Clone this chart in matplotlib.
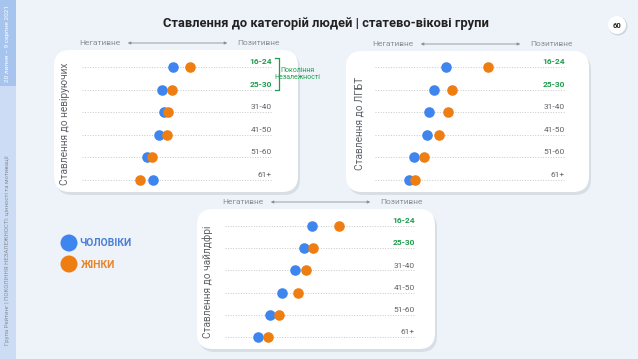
import numpy as np
import matplotlib.pyplot as plt
from matplotlib.patches import FancyBboxPatch, Rectangle, Circle

plt.rcParams['font.family'] = ['Roboto', 'DejaVu Sans']

# data (score on a 0-100 negative -> positive scale)
ages = ['16-24', '25-30', '31-40', '41-50', '51-60', '61+']
nonbelievers_men = [48, 42, 43, 40.5, 34, 37.5]
nonbelievers_women = [57, 47.5, 45.5, 44.5, 37, 30.5]
lgbt_men = [37.5, 31, 28.5, 27.5, 20.5, 18]
lgbt_women = [59.5, 40.5, 38.5, 33.5, 26, 21]
childfree_men = [46, 41.5, 37, 30, 23.5, 17.5]
childfree_women = [60, 46.5, 42.5, 38.5, 28.5, 22.5]

title = 'Ставлення до категорій людей | статево-вікові групи'
panel_titles = ['Ставлення до невіруючих', 'Ставлення до ЛГБТ', 'Ставлення до чайлдфрі']
legend_labels = ['ЧОЛОВІКИ', 'ЖІНКИ']

BLUE = '#3f85ee'
ORANGE = '#ee7d12'
GREEN = '#1f9d4f'
GREY = '#5f6368'
W, H = 638, 359

fig = plt.figure(figsize=(W / 100, H / 100), dpi=100)
fig.patch.set_facecolor('#eef3fa')

# background axes in pixel units for decorations
bg = fig.add_axes([0, 0, 1, 1])
bg.set_xlim(0, W)
bg.set_ylim(H, 0)
bg.axis('off')

# side strip
bg.add_patch(Rectangle((0, 0), 16, H, color='#cbdcf4', lw=0))
bg.add_patch(Rectangle((0, 0), 16, 86, color='#a6c4ee', lw=0))
bg.text(8, 43, '20 липня – 9 серпня 2021', rotation=90, ha='center', va='center',
        fontsize=4.6, color='white')
bg.text(8, 250, 'Група Рейтинг | ПОКОЛІННЯ НЕЗАЛЕЖНОСТІ: цінності та мотивації',
        rotation=90, ha='center', va='center', fontsize=4.3, color='#8a8f96')

bg.text(326, 23, title, ha='center', va='center', fontsize=9.3,
        fontweight='bold', color='#222222')

# page number
bg.add_patch(Circle((618, 26), 9.5, color='#cfd5dd', lw=0))
bg.add_patch(Circle((617, 25), 9, color='white', lw=0))
bg.text(617, 25, '60', ha='center', va='center', fontsize=5.5, fontweight='bold', color='#222')

# panel layout in pixels: box, grid x-range, rows y-range
panels = [
    dict(box=(54, 50, 298, 192), gx=(82, 272), gy=(56, 191), lab_x=65,
         men=nonbelievers_men, women=nonbelievers_women, title=panel_titles[0]),
    dict(box=(346, 51, 589, 192), gx=(375, 565), gy=(56, 191), lab_x=359,
         men=lgbt_men, women=lgbt_women, title=panel_titles[1]),
    dict(box=(197, 209, 435, 349), gx=(225, 415), gy=(215, 348), lab_x=208,
         men=childfree_men, women=childfree_women, title=panel_titles[2]),
]

for p in panels:
    x0, y0, x1, y1 = p['box']
    bg.add_patch(FancyBboxPatch((x0 + 2, y0 + 3), x1 - x0, y1 - y0,
                                boxstyle='round,pad=0,rounding_size=16',
                                fc='#d3d9e2', ec='none', alpha=0.8))
    bg.add_patch(FancyBboxPatch((x0, y0), x1 - x0, y1 - y0,
                                boxstyle='round,pad=0,rounding_size=16',
                                fc='white', ec='none'))
    gx0, gx1 = p['gx']
    # header with arrow
    hy = y0 - 7
    bg.text(gx0 + 18, hy, 'Негативне', ha='center', va='center', fontsize=6, color='#8a8f96')
    bg.text(gx1 - 14, hy, 'Позитивне', ha='center', va='center', fontsize=6, color='#8a8f96')
    bg.annotate('', xy=(gx0 + 43, hy), xytext=(gx1 - 42, hy),
                arrowprops=dict(arrowstyle='<|-|>', color='#8a8f96', lw=0.6,
                                mutation_scale=4))
    bg.text(p['lab_x'], (p['gy'][0] + p['gy'][1]) / 2, p['title'], rotation=90,
            ha='center', va='center', fontsize=7.3, color=GREY)

    # data axes
    gy0, gy1 = p['gy']
    ax = fig.add_axes([gx0 / W, 1 - gy1 / H, (gx1 - gx0) / W, (gy1 - gy0) / H])
    ax.set_xlim(0, 100)
    ax.set_ylim(len(ages) - 0.5, -0.5)
    ax.axis('off')
    ax.patch.set_alpha(0)
    y = np.arange(len(ages))
    ax.hlines(y, 0, 100, colors='#c8c8c8', linestyles=':', lw=0.7)
    ax.scatter(p['men'], y, s=58, color=BLUE, zorder=3, clip_on=False, lw=0)
    ax.scatter(p['women'], y, s=58, color=ORANGE, zorder=4, clip_on=False, lw=0)
    for i, a in enumerate(ages):
        young = i < 2
        ax.text(100, i - 0.08, a, ha='right', va='bottom', fontsize=6,
                color=GREEN if young else GREY, fontweight='bold' if young else 'normal')

# bracket for generation of independence
bg.plot([275, 279, 279, 275], [58, 58, 90, 90], color=GREEN, lw=0.9)
bg.text(297, 74, 'Покоління\nНезалежності', ha='center', va='center', fontsize=5,
        color=GREEN, linespacing=1.0)

# legend
bg.scatter([69, 69], [243, 264], s=150, color=[BLUE, ORANGE], lw=0)
bg.text(79, 243, legend_labels[0], ha='left', va='center', fontsize=7.5,
        fontweight='bold', color='#4a7fd6')
bg.text(81, 265, legend_labels[1], ha='left', va='center', fontsize=7.5,
        fontweight='bold', color='#e8832a')

fig.savefig('out.png', dpi=100, facecolor=fig.get_facecolor())
